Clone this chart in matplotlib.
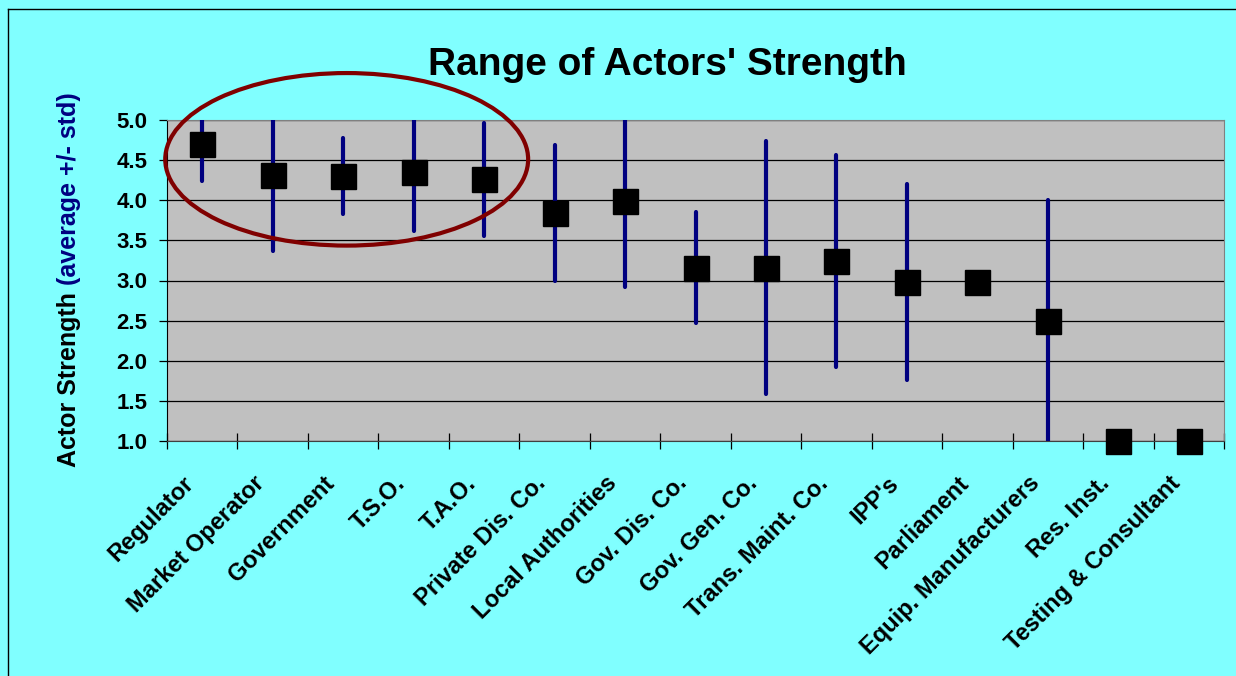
import numpy as np
import matplotlib
matplotlib.use("Agg")
from matplotlib import pyplot as plt
from matplotlib.patches import Ellipse
from matplotlib.lines import Line2D
from matplotlib.transforms import ScaledTranslation

actors = ["Regulator", "Market Operator", "Government", "T.S.O.", "T.A.O.",
          "Private Dis. Co.", "Local Authorities", "Gov. Dis. Co.", "Gov. Gen. Co.",
          "Trans. Maint. Co.", "IPP's", "Parliament", "Equip. Manufacturers",
          "Res. Inst.", "Testing & Consultant"]
average = [4.70, 4.32, 4.30, 4.35, 4.26, 3.84, 3.99, 3.16, 3.16, 3.24, 2.98, 2.98, 2.49, 1.0, 1.0]
std = [0.46, 0.95, 0.47, 0.73, 0.70, 0.85, 1.07, 0.69, 1.58, 1.32, 1.22, 0.0, 1.51, 0.0, 0.0]
yticks = [1.0, 1.5, 2.0, 2.5, 3.0, 3.5, 4.0, 4.5, 5.0]

plt.rcParams['font.family'] = ['Liberation Sans', 'DejaVu Sans']
plt.rcParams['font.weight'] = 'bold'

fig = plt.figure(figsize=(12.36, 6.76), dpi=100, facecolor='#80FFFF')
ax = fig.add_axes([167/1236, 1-441/676, (1224-167)/1236, (441-120)/676])
ax.set_facecolor('#C0C0C0')

x = np.arange(len(actors))
eb = ax.errorbar(x, average, yerr=std, fmt='none', ecolor='#000080', elinewidth=3,
                 capsize=0, zorder=3)
for coll in eb[2]:
    coll.set_capstyle('round')
ax.plot(x, average, 's', color='black', markersize=18, clip_on=False, zorder=4)

ax.set_xlim(-0.5, len(actors) - 0.5)
ax.set_ylim(1.0, 5.0)
ax.set_yticks(yticks)
ax.set_yticklabels([f"{v:.1f}" for v in yticks], fontsize=16, fontweight='bold')
ax.yaxis.grid(True, color='black', linewidth=0.9)
ax.set_axisbelow(True)
ax.tick_params(axis='y', direction='out', length=6, pad=8, width=0.9)

ax.set_xticks(np.arange(-0.5, len(actors), 1.0))
ax.set_xticklabels([])
ax.tick_params(axis='x', which='major', direction='inout', length=11, width=0.9)
ax.set_xticks(x, actors, minor=True)
ax.tick_params(axis='x', which='minor', length=0, pad=28)
for lab in ax.get_xticklabels(minor=True):
    lab.set_rotation(45)
    lab.set_rotation_mode('anchor')
    lab.set_ha('right')
    lab.set_va('center')
    lab.set_fontsize(17)
    lab.set_fontweight('bold')
    lab.set_transform(lab.get_transform() + ScaledTranslation(-0.12, 0, fig.dpi_scale_trans))

for side in ['top', 'right']:
    ax.spines[side].set_color('#808080')
ax.spines['left'].set_color('black')
ax.spines['bottom'].set_color('#404040')

ax.add_patch(Ellipse((2.05, 4.51), 5.15, 2.15, fill=False, edgecolor='#800000',
                     linewidth=3, clip_on=False, zorder=6))

fig.text(667/1236, 1-75/676, "Range of Actors' Strength", ha='center', va='baseline',
         fontsize=28, fontweight='bold')

t1 = fig.text(69/1236, 1-467/676, "Actor Strength ", rotation=90, rotation_mode='anchor',
              ha='left', va='center', fontsize=18, fontweight='bold', color='black')
fig.canvas.draw()
bb = t1.get_window_extent()
fig.text(69/1236, bb.y1/fig.bbox.height, "(average +/- std)", rotation=90,
         rotation_mode='anchor', ha='left', va='center', fontsize=18,
         fontweight='bold', color='#000080')

fig.add_artist(Line2D([8/1236, 8/1236], [0, 1-9/676], color='black', linewidth=1))
fig.add_artist(Line2D([8/1236, 1], [1-9/676, 1-9/676], color='black', linewidth=1))

fig.savefig('out.png', dpi=100, facecolor=fig.get_facecolor())
